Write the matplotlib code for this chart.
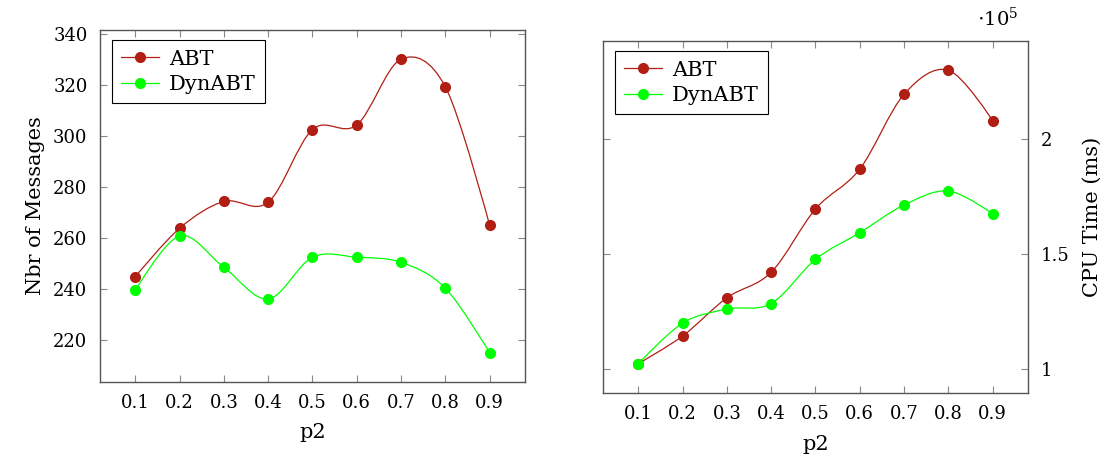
import numpy as np
import matplotlib
matplotlib.use('Agg')
import matplotlib.pyplot as plt
from matplotlib.path import Path
from matplotlib.patches import PathPatch
from matplotlib.lines import Line2D

plt.rcParams['font.family'] = ['DejaVu Serif']
plt.rcParams['mathtext.fontset'] = 'dejavuserif'

p2 = [0.1, 0.2, 0.3, 0.4, 0.5, 0.6, 0.7, 0.8, 0.9]

# number of messages
msg_abt = [245.0, 264.0, 274.5, 274.2, 302.7, 304.5, 330.3, 319.5, 265.2]
msg_dyn = [239.6, 261.0, 248.6, 236.2, 252.6, 252.6, 250.6, 240.5, 215.2]

# CPU time, in units of 1e5 ms
cpu_abt = [1.025, 1.145, 1.311, 1.422, 1.697, 1.870, 2.195, 2.300, 2.081]
cpu_dyn = [1.025, 1.201, 1.262, 1.286, 1.478, 1.594, 1.714, 1.775, 1.676]

labels = ['ABT', 'DynABT']
RED = '#b01e14'
GREEN = '#00ff00'
FRAME = '#555555'


def smooth_path(x, y, t=0.165):
    # bezier path through the points, like "plot smooth" in pgf
    pts = np.column_stack([x, y]).astype(float)
    n = len(pts)
    verts = [pts[0]]
    codes = [Path.MOVETO]
    for i in range(n - 1):
        p0, p1 = pts[i], pts[i + 1]
        c1 = p0 if i == 0 else p0 + t * (pts[i + 1] - pts[i - 1])
        c2 = p1 if i == n - 2 else p1 - t * (pts[i + 2] - pts[i])
        verts += [c1, c2, p1]
        codes += [Path.CURVE4] * 3
    return Path(verts, codes)


def draw(ax, series, colors):
    for ys, c in zip(series, colors):
        ax.add_patch(PathPatch(smooth_path(p2, ys), fill=False, edgecolor=c, lw=0.9))
        ax.plot(p2, ys, 'o', color=c, markersize=7, zorder=3)
    ax.set_xticks(p2)
    ax.set_xticklabels([str(v) for v in p2])
    ax.set_xlim(p2[0] - 0.1 * (p2[-1] - p2[0]), p2[-1] + 0.1 * (p2[-1] - p2[0]))
    allv = np.concatenate(series)
    lo, hi = allv.min(), allv.max()
    ax.set_ylim(lo - 0.1 * (hi - lo), hi + 0.1 * (hi - lo))
    for s in ax.spines.values():
        s.set_color(FRAME)
        s.set_linewidth(1.0)
    ax.tick_params(direction='in', length=5, width=0.8, color='#888888',
                   top=True, right=True, labelsize=13, pad=9)
    ax.set_xlabel('p2', fontsize=15, labelpad=8)
    handles = [Line2D([], [], color=c, lw=0.9, marker='o', markersize=7) for c in colors]
    leg = ax.legend(handles, labels, loc='upper left', fontsize=15, frameon=True,
                    fancybox=False, edgecolor='black', framealpha=1,
                    handlelength=1.8, handletextpad=0.5, borderpad=0.45,
                    labelspacing=0.3, borderaxespad=0,
                    bbox_to_anchor=(0.028, 0.97))
    leg.get_frame().set_linewidth(0.8)


fig = plt.figure(figsize=(11.05, 4.59), dpi=100)
ax1 = fig.add_axes([0.0905, 0.168, 0.3846, 0.767])
ax2 = fig.add_axes([0.5457, 0.144, 0.3846, 0.767])

draw(ax1, [np.array(msg_abt), np.array(msg_dyn)], [RED, GREEN])
ax1.set_yticks([220, 240, 260, 280, 300, 320, 340])
ax1.set_ylabel('Nbr of Messages', fontsize=15, labelpad=6)

draw(ax2, [np.array(cpu_abt), np.array(cpu_dyn)], [RED, GREEN])
ax2.set_yticks([1, 1.5, 2])
ax2.set_yticklabels(['1', '1.5', '2'])
ax2.yaxis.tick_right()
ax2.tick_params(left=True, right=True, labelleft=False, labelright=True)
ax2.yaxis.set_label_position('right')
ax2.set_ylabel('CPU Time (ms)', fontsize=15, labelpad=10)
ax2.text(0.977, 1.03, r'$\cdot 10^{5}$', transform=ax2.transAxes,
         ha='right', va='bottom', fontsize=14)

fig.savefig('out.png', dpi=100)
